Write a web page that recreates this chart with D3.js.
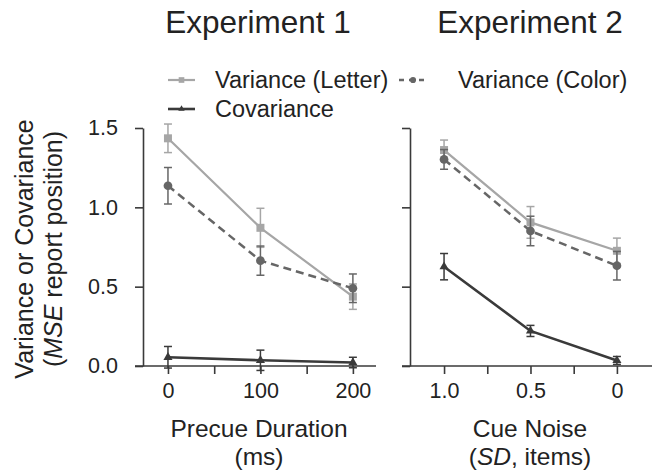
<!DOCTYPE html>
<html>
<head>
<meta charset="utf-8">
<script src="https://cdn.jsdelivr.net/npm/d3@7"></script>
<style>
  body { margin: 0; background: #fff; }
  text { font-family: "Liberation Sans", Arial, sans-serif; fill: #222; }
</style>
</head>
<body>
<svg id="mainsvg" width="654" height="476"></svg>
<script>
const svg = d3.select('#mainsvg');

// experiment 1: precue duration (ms)
const precue = [0, 100, 200];
const letter1 = [1.435, 0.871, 0.437];
const letter1Err = [0.09, 0.123, 0.08];
const color1 = [1.136, 0.664, 0.49];
const color1Err = [0.115, 0.092, 0.09];
const cov1 = [0.055, 0.036, 0.022];
const cov1Err = [0.068, 0.064, 0.033];

// experiment 2: cue noise (SD, items)
const noise = [1.0, 0.5, 0];
const letter2 = [1.361, 0.905, 0.726];
const letter2Err = [0.063, 0.1, 0.08];
const color2 = [1.302, 0.851, 0.632];
const color2Err = [0.062, 0.093, 0.09];
const cov2 = [0.626, 0.221, 0.035];
const cov2Err = [0.083, 0.035, 0.025];

const yTicks = [0, 0.5, 1.0, 1.5];
const x1Ticks = [0, 50, 100, 150, 200];
const x2Ticks = [1.0, 0.75, 0.5, 0.25, 0];

const styles = {
  letter: { color: '#a6a6a6', dash: null, width: 2.2, symbol: d3.symbolSquare, size: 64 },
  color: { color: '#666666', dash: '8,5', width: 2.5, symbol: d3.symbolCircle, size: 60 },
  cov: { color: '#3a3a3a', dash: null, width: 2.6, symbol: d3.symbolTriangle, size: 36 }
};

const yScale = d3.scaleLinear().domain([0, 1.5]).range([366, 128]);

function panel(xs, series, xScale, xTicks, xFmt, showYLabels) {
  const g = svg.append('g');

  const yAxis = d3.axisLeft(yScale).tickValues(yTicks).tickSize(8).tickSizeOuter(0)
    .tickPadding(17)
    .tickFormat(showYLabels ? d3.format('.1f') : '');
  const yG = g.append('g').attr('transform', `translate(${xScale.range()[0]},0)`).call(yAxis);

  const xAxis = d3.axisBottom(xScale).tickValues(xTicks).tickSize(8).tickSizeOuter(0)
    .tickPadding(9).tickFormat(xFmt);
  const xG = g.append('g').attr('transform', `translate(0,${yScale(0)})`).call(xAxis);

  [yG, xG].forEach(a => {
    a.selectAll('path, line').attr('stroke', '#3a3a3a').attr('stroke-width', 1.6);
    a.selectAll('text').attr('font-size', 21.5).attr('fill', '#222')
      .attr('font-family', '"Liberation Sans", Arial, sans-serif');
  });
  xG.select('.domain').attr('d', `M${xScale.range()[0] - 8},0H${xScale.range()[1]}`);

  series.forEach(s => {
    const st = styles[s.key];
    const pts = xs.map((x, i) => ({ x, y: s.values[i], e: s.err[i] }));
    const line = d3.line().x(d => xScale(d.x)).y(d => yScale(d.y));
    g.append('path').datum(pts)
      .attr('d', line)
      .attr('fill', 'none')
      .attr('stroke', st.color)
      .attr('stroke-width', st.width)
      .attr('stroke-dasharray', st.dash);

    const eb = g.selectAll(null).data(pts).join('g').attr('stroke', st.color).attr('stroke-width', 1.5);
    eb.append('line')
      .attr('x1', d => xScale(d.x)).attr('x2', d => xScale(d.x))
      .attr('y1', d => yScale(d.y - d.e)).attr('y2', d => yScale(d.y + d.e));
    eb.append('line')
      .attr('x1', d => xScale(d.x) - 4).attr('x2', d => xScale(d.x) + 4)
      .attr('y1', d => yScale(d.y - d.e)).attr('y2', d => yScale(d.y - d.e));
    eb.append('line')
      .attr('x1', d => xScale(d.x) - 4).attr('x2', d => xScale(d.x) + 4)
      .attr('y1', d => yScale(d.y + d.e)).attr('y2', d => yScale(d.y + d.e));

    g.selectAll(null).data(pts).join('path')
      .attr('transform', d => `translate(${xScale(d.x)},${yScale(d.y)})`)
      .attr('d', d3.symbol().type(st.symbol).size(st.size))
      .attr('fill', st.color);
  });
}

const x1 = d3.scaleLinear().domain([-27, 225]).range([143, 376]);
const x2 = d3.scaleLinear().domain([1.197, -0.203]).range([410, 652]);

panel(precue, [
  { key: 'letter', values: letter1, err: letter1Err },
  { key: 'color', values: color1, err: color1Err },
  { key: 'cov', values: cov1, err: cov1Err }
], x1, x1Ticks, d => (d % 100 === 0 ? d : ''), true);

panel(noise, [
  { key: 'letter', values: letter2, err: letter2Err },
  { key: 'color', values: color2, err: color2Err },
  { key: 'cov', values: cov2, err: cov2Err }
], x2, x2Ticks, d => (d === 1 ? '1.0' : d === 0.5 ? '0.5' : d === 0 ? '0' : ''), false);

// titles
svg.append('text').attr('x', 258).attr('y', 33).attr('text-anchor', 'middle')
  .attr('font-size', 31.5).text('Experiment 1');
svg.append('text').attr('x', 530).attr('y', 33).attr('text-anchor', 'middle')
  .attr('font-size', 31.5).text('Experiment 2');

// legend
const legendItems = [
  { key: 'letter', label: 'Variance (Letter)', x: 168, y: 80, w: 27, gap: 20 },
  { key: 'color', label: 'Variance (Color)', x: 399, y: 80, w: 28, gap: 31 },
  { key: 'cov', label: 'Covariance', x: 168, y: 109, w: 27, gap: 20 }
];
legendItems.forEach(it => {
  const st = styles[it.key];
  svg.append('line').attr('x1', it.x).attr('x2', it.x + it.w)
    .attr('y1', it.y).attr('y2', it.y)
    .attr('stroke', st.color).attr('stroke-width', st.width)
    .attr('stroke-dasharray', it.key === 'color' ? '5,5' : null);
  svg.append('path').attr('transform', `translate(${it.x + it.w / 2},${it.y})`)
    .attr('d', d3.symbol().type(st.symbol).size(st.size * 0.5))
    .attr('fill', st.color);
  svg.append('text').attr('x', it.x + it.w + it.gap).attr('y', it.y + 8)
    .attr('font-size', 23.5).text(it.label);
});

// axis titles
const xt1 = svg.append('text').attr('text-anchor', 'middle').attr('font-size', 24.5);
xt1.append('tspan').attr('x', 259).attr('y', 437).text('Precue Duration');
xt1.append('tspan').attr('x', 259).attr('y', 465).text('(ms)');

const xt2 = svg.append('text').attr('text-anchor', 'middle').attr('font-size', 24.5);
xt2.append('tspan').attr('x', 530).attr('y', 437).text('Cue Noise');
const l2 = xt2.append('tspan').attr('x', 530).attr('y', 465);
l2.append('tspan').text('(');
l2.append('tspan').attr('font-style', 'italic').text('SD');
l2.append('tspan').text(', items)');

const yt = svg.append('text').attr('text-anchor', 'middle').attr('font-size', 25)
  .attr('transform', 'translate(0,249) rotate(-90)');
yt.append('tspan').attr('x', 0).attr('y', 33).text('Variance or Covariance');
const yl2 = yt.append('tspan').attr('x', 0).attr('y', 62);
yl2.append('tspan').text('(');
yl2.append('tspan').attr('font-style', 'italic').text('MSE');
yl2.append('tspan').text(' report position)');
</script>
</body>
</html>
